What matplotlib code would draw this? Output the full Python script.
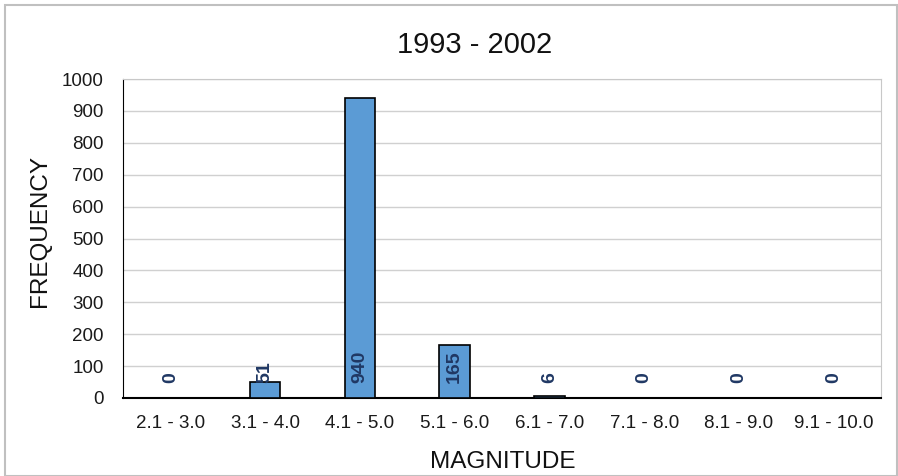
import matplotlib
matplotlib.use("Agg")
import matplotlib.pyplot as plt
from matplotlib.patches import Rectangle
import numpy as np

plt.rcParams['font.family'] = ['Liberation Sans', 'DejaVu Sans']

categories = ["2.1 - 3.0", "3.1 - 4.0", "4.1 - 5.0", "5.1 - 6.0",
              "6.1 - 7.0", "7.1 - 8.0", "8.1 - 9.0", "9.1 - 10.0"]
freq = [0, 51, 940, 165, 6, 0, 0, 0]

fig = plt.figure(figsize=(8.98, 4.76), dpi=100)
ax = fig.add_axes([123 / 898, 1 - 398 / 476, (881 - 123) / 898, (398 - 79) / 476])

x = np.arange(len(categories))
ax.bar(x, freq, width=0.32, color="#5B9BD5", edgecolor="black", linewidth=1.2, zorder=3)

for xi, v in zip(x, freq):
    ax.annotate(str(v), (xi, 0), xytext=(0, 11), textcoords="offset points",
                rotation=90, ha="center", va="bottom", fontsize=14,
                fontweight="bold", color="#203864", zorder=4)

ax.set_xlim(-0.5, len(categories) - 0.5)
ax.set_ylim(0, 1000)
ax.set_yticks(np.arange(0, 1001, 100))
ax.set_xticks(x)
ax.set_xticklabels(categories)
ax.tick_params(length=0, labelsize=13.5, colors="#1a1a1a")
ax.tick_params(axis="x", pad=12)
ax.tick_params(axis="y", pad=14)
ax.grid(axis="y", color="#D0D0D0", linewidth=1, zorder=0)

ax.spines["top"].set_color("#C8C8C8")
ax.spines["right"].set_color("#C8C8C8")
ax.spines["left"].set_color("black")
ax.spines["bottom"].set_color("black")
ax.spines["bottom"].set_linewidth(1.5)

fig.text(475 / 898, 1 - 45 / 476, "1993 - 2002", ha="center", va="center", fontsize=21, color="#111111")
fig.text(40 / 898, 1 - 231 / 476, "FREQUENCY", rotation=90, ha="center", va="center", fontsize=17.5, color="#111111")
fig.text(503 / 898, 1 - 462 / 476, "MAGNITUDE", ha="center", va="center", fontsize=17.5, color="#111111")

fig.patches.append(Rectangle((5 / 898, 0), 1 - 6 / 898, 1 - 5 / 476, transform=fig.transFigure,
                             fill=False, edgecolor="#C0C0C0", linewidth=1.5))

fig.savefig("out.png", dpi=100)
